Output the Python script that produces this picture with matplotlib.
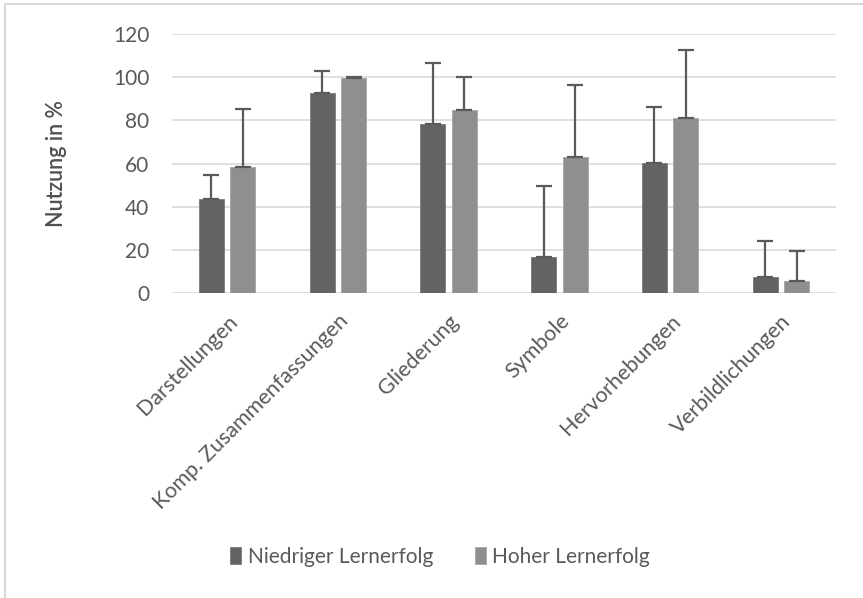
import matplotlib.pyplot as plt
from matplotlib.lines import Line2D
import numpy as np

categories = ['Darstellungen', 'Komp. Zusammenfassungen', 'Gliederung',
              'Symbole', 'Hervorhebungen', 'Verbildlichungen']
niedrig = [43.5, 92.7, 78.5, 16.8, 60.2, 7.4]
niedrig_err = [11.1, 10.4, 28.3, 32.9, 26.2, 16.8]
hoch = [58.5, 99.6, 84.6, 63.1, 80.9, 5.6]
hoch_err = [27.0, 0.4, 15.5, 33.3, 31.6, 13.8]
yticks = [0, 20, 40, 60, 80, 100, 120]

text_col = '#595959'
dark = '#636363'
light = '#8f8f8f'

plt.rcParams['font.family'] = ['Lato', 'DejaVu Sans']

fig = plt.figure(figsize=(8.63, 5.98), dpi=100)
ax = fig.add_axes([0.199, 0.510, 0.770, 0.433])

x = np.arange(len(categories))
w = 0.226
off = 0.142
err_kw = dict(ecolor='#5a5a5a', elinewidth=1.6, capsize=6, capthick=1.6)

ax.bar(x - off, niedrig, w, color=dark, edgecolor='#7a7a7a', linewidth=0.6,
       yerr=[np.zeros(len(x)), niedrig_err], error_kw=err_kw,
       label='Niedriger Lernerfolg', zorder=3)
ax.bar(x + off, hoch, w, color=light, edgecolor='#a5a5a5', linewidth=0.6,
       yerr=[np.zeros(len(x)), hoch_err], error_kw=err_kw,
       label='Hoher Lernerfolg', zorder=3)

ax.set_xlim(-0.5, len(categories) - 0.5)
ax.set_ylim(0, 120)
ax.set_yticks(yticks)
ax.grid(axis='y', color='#d9d9d9', linewidth=1.2, zorder=0)
for s in ax.spines.values():
    s.set_visible(False)
ax.tick_params(axis='both', length=0, colors=text_col, labelsize=15)
ax.tick_params(axis='y', pad=16)
ax.tick_params(axis='x', pad=13)

ax.set_xticks(x)
ax.set_xticklabels(categories, rotation=45, ha='right', va='top',
                   rotation_mode='anchor', fontsize=15.5, color=text_col)
ax.set_ylabel('Nutzung in %', fontsize=15.5, color='#505050', fontweight='semibold')
ax.yaxis.set_label_coords(-0.158, 0.50)

leg = ax.legend(loc='center', bbox_to_anchor=(0.51, 0.069), bbox_transform=fig.transFigure,
                ncol=2, frameon=False, fontsize=15, handlelength=0.55, handleheight=0.85,
                handletextpad=0.3, columnspacing=2.0)
for t in leg.get_texts():
    t.set_color(text_col)

# light frame around the chart
fig.add_artist(Line2D([5 / 863, 1], [1 - 4 / 598, 1 - 4 / 598], color='#d9d9d9', lw=1.5))
fig.add_artist(Line2D([5 / 863, 5 / 863], [0, 1 - 4 / 598], color='#d9d9d9', lw=1.5))

fig.savefig('out.png', dpi=100)
